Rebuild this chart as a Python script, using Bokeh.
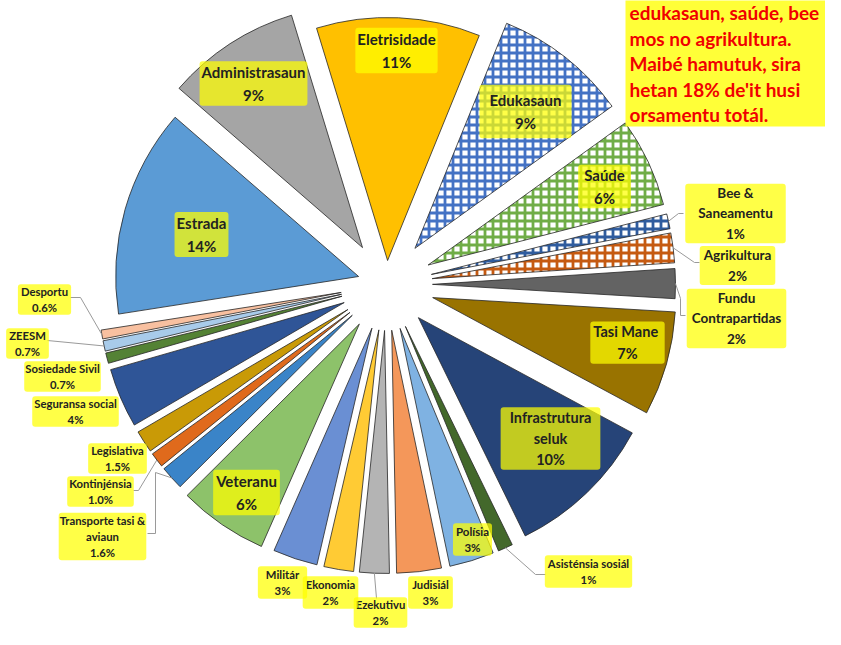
import numpy as np
from bokeh.plotting import figure
from bokeh.models import Range1d, Label, BoxAnnotation, ColumnDataSource
from bokeh.embed import file_html
from bokeh.resources import INLINE

# ---------------- data ----------------
categories = ["Eletrisidade", "Edukasaun", "Saúde", "Bee & Saneamentu", "Agrikultura",
              "Fundu Contrapartidas", "Tasi Mane", "Infrastrutura seluk", "Asisténsia sosiál",
              "Polísia", "Judisiál", "Ezekutivu", "Ekonomia", "Militár", "Veteranu",
              "Transporte tasi & aviaun", "Kontinjénsia", "Legislativa", "Seguransa social",
              "Sosiedade Sivil", "ZEESM", "Desportu", "Estrada", "Administrasaun"]
values = [11, 9, 6, 1, 2, 2, 7, 10, 1, 3, 3, 2, 2, 3, 6, 1.6, 1.0, 1.5, 4, 0.7, 0.7, 0.6, 14, 9]
pct_text = ["11%", "9%", "6%", "1%", "2%", "2%", "7%", "10%", "1%", "3%", "3%", "2%", "2%", "3%",
            "6%", "1.6%", "1.0%", "1.5%", "4%", "0.7%", "0.7%", "0.6%", "14%", "9%"]
label_names = ["Eletrisidade", "Edukasaun", "Saúde", "Bee &\nSaneamentu", "Agrikultura",
               "Fundu\nContrapartidas", "Tasi  Mane", "Infrastrutura\nseluk", "Asisténsia sosiál",
               "Polísia", "Judisiál", "Ezekutivu", "Ekonomia", "Militár", "Veteranu",
               "Transporte tasi &\naviaun", "Kontinjénsia", "Legislativa", "Seguransa social",
               "Sosiedade Sivil", "ZEESM", "Desportu", "Estrada", "Administrasaun"]
note_lines = ["edukasaun, saúde, bee", "mos no agrikultura.", "Maibé hamutuk, sira",
              "hetan 18% de'it husi", "orsamentu totál."]

# ---------------- styles ----------------
colors = ["#FFC000", "#4472C4", "#70AD47", "#2F5C9E", "#C55A11", "#636363", "#997300", "#264478",
          "#43682B", "#7FB2E2", "#F4975A", "#B4B4B4", "#FFCB34", "#6A8FD3", "#8DC26A", "#3A84C8",
          "#E06A1C", "#C99A06", "#2F5597", "#548235", "#A8CBEA", "#F8C0A0", "#5B9BD5", "#A5A5A5"]
checker = [False, True, True, True, True] + [False] * 19
explode = [24, 46, 46, 46, 46, 46, 48, 46, 46, 46, 46, 46, 46, 46, 48, 46, 46, 46, 46, 46, 46, 46, 29, 44]
font_px = [15, 15, 15, 13.5, 13.5, 13.5, 14.5, 14.5, 11.3, 11.5, 11.3, 11.3, 11.3, 11.3, 15,
           11.3, 11.3, 11.3, 11.3, 11.3, 11.3, 11.3, 15, 15]
# (horizontal, vertical) padding of label boxes
pad_hv = [(2, 2), (10, 6), (6, 1), (13, 1), (4, 1), (5, 1), (3, 2), (9, 2), (3, 2), (3, 2), (4, 2),
          (2, 1), (3, 2), (8, 2), (3, 2), (1, 1), (2, 1), (3, 1), (2, 1), (1, 1), (3, 1), (3, 1),
          (2, 2), (2, 2)]
line_h = [1.3, 1.3, 1.3, 1.3, 1.3, 1.3, 1.25, 1.22, 1.2, 1.2, 1.2, 1.2, 1.2, 1.2, 1.3,
          1.25, 1.2, 1.2, 1.2, 1.2, 1.2, 1.2, 1.27, 1.25]

IMG_H = 645
CX, CY, R = 386.0, 284.0, 243.0   # pie centre (page pixels) and radius
START = -17.0                       # clockwise-from-top angle of first slice

# label layout (page pixel centres)
label_pos = [(396, 50), (525, 111), (604, 186), (735, 213), (737, 265), (736, 318), (627, 342),
             (550, 438), (588, 571), (472, 539), (430, 592), (380, 612), (330, 592), (282, 582),
             (246, 492), (102, 536), (100, 491), (117, 458), (75, 411), (62, 376), (27, 343),
             (44, 299), (201, 234), (253, 83)]
leaders = {3: [(678, 213), (683, 213)], 4: [(694, 262), (699, 262)],
           5: [(680, 298), (680, 315), (685, 315)], 8: [(535, 574), (545, 574)],
           11: [(376, 598)], 15: [(155, 472), (155, 533), (147, 533)],
           16: [(138, 490), (133, 490)], 20: [(47, 340)], 21: [(80, 297), (70, 297)]}

vals = np.array(values, dtype=float)
frac = vals / vals.sum()
cw_end = START + np.cumsum(frac) * 360.0
cw_start = cw_end - frac * 360.0
cw_mid = (cw_start + cw_end) / 2.0
ex = np.array(explode, dtype=float)
mid_r = np.radians(cw_mid)
xs = CX + ex * np.sin(mid_r)
ys = (IMG_H - CY) + ex * np.cos(mid_r)

src = ColumnDataSource(dict(
    x=xs, y=ys,
    start=np.radians(90.0 - cw_end), end=np.radians(90.0 - cw_start),
    fill=["white" if c else col for c, col in zip(checker, colors)],
    hatch=["cross" if c else " " for c in checker],
    hcol=colors,
    name=categories, value=vals,
))

p = figure(width=825, height=629, x_range=Range1d(0, 825), y_range=Range1d(IMG_H - 629, IMG_H),
           output_backend="svg", toolbar_location=None, x_axis_location=None,
           y_axis_location=None, min_border=0, outline_line_color=None,
           background_fill_color="white")
p.grid.visible = False

p.wedge(x="x", y="y", radius=R, start_angle="start", end_angle="end", source=src,
        fill_color="fill", line_color="#262626", line_width=0.8,
        hatch_pattern="hatch", hatch_color="hcol", hatch_scale=8, hatch_weight=2.8)

# leader lines
for i, pts in leaders.items():
    ax = xs[i] + R * np.sin(mid_r[i])
    ay = ys[i] + R * np.cos(mid_r[i])
    lx = [ax] + [q[0] for q in pts]
    ly = [ay] + [IMG_H - q[1] for q in pts]
    p.line(lx, ly, line_color="#9A9A9A", line_width=1)

FONT = "Lato"
for i, name in enumerate(label_names):
    px, py = label_pos[i]
    p.add_layout(Label(x=px, y=IMG_H - py, text=name + "\n" + pct_text[i],
                       text_align="center", text_baseline="middle",
                       text_font=FONT, text_font_size=f"{font_px[i]}px", text_font_style="bold",
                       text_color="#222222", text_line_height=line_h[i],
                       background_fill_color="#FFFF00", background_fill_alpha=0.72,
                       padding=pad_hv[i], border_radius=3))

# note box
p.add_layout(BoxAnnotation(left=625, right=830, bottom=IMG_H - 126, top=IMG_H + 10,
                           fill_color="#FFFF22", fill_alpha=0.9, line_color=None))
for k, line in enumerate(note_lines):
    p.add_layout(Label(x=629, y=IMG_H - (12 + 25.5 * k), text=line, text_align="left",
                       text_baseline="middle", text_font=FONT, text_font_size="19px",
                       text_font_style="bold", text_color="#F00000"))

open("out.html", "w").write(file_html(p, INLINE))
